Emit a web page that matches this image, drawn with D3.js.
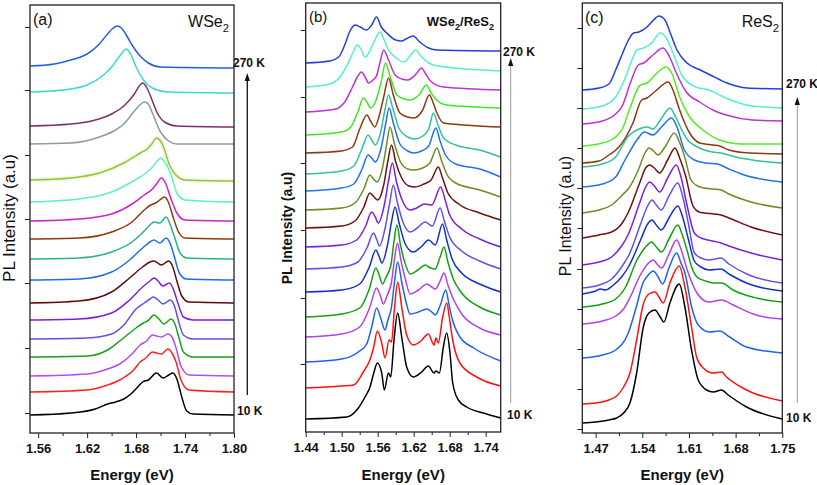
<!DOCTYPE html>
<html><head><meta charset="utf-8">
<script src="https://cdn.jsdelivr.net/npm/d3@7"></script>
<style>body{margin:0;background:#fff}svg{display:block}</style>
</head><body>
<svg id="chart" width="817" height="485"></svg>
<script>
// ---------- DATA ----------
const arrowLabels = ["270 K", "10 K"];
const yLabel = "PL Intensity (a.u)";
const xLabel = "Energy (eV)";

// Panel (a) WSe2 : tick values
const wse2Ticks = [1.56, 1.62, 1.68, 1.74, 1.80];
const wse2Minor = [1.59, 1.65, 1.71, 1.77];
const wse2YTicks = [20, 85, 150, 214, 278, 343, 406];
// vertical offsets (a.u.) for spectra, 270 K (top) -> 10 K (bottom)
const wse2Offsets = [367, 341, 307, 289, 253, 231, 212, 194, 174, 153, 130, 113, 94, 76, 57, 41, 18];
const wse2Colors = ["#2060e0","#3cd8d0","#7d2f6a","#8f9a9a","#8cc83c","#5cf0c8","#cc22cc","#8b3a10","#2ab088","#1c6cf0","#5c0c0c","#7a1fe0","#5c50e8","#18a018","#b44cf0","#ff2020","#000000"];
const wse2Spectra = [
 [[1.55,0],[1.58,2],[1.60,6],[1.62,12],[1.635,22],[1.645,32],[1.652,38],[1.657,40],[1.662,38],[1.668,31],[1.675,21],[1.685,10],[1.695,3],[1.71,-1],[1.80,-2]],
 [[1.55,0],[1.59,2],[1.62,7],[1.64,17],[1.65,25],[1.66,36],[1.668,43],[1.674,37],[1.68,25],[1.69,11],[1.70,4],[1.72,0],[1.80,-1]],
 [[1.55,0],[1.60,2],[1.63,6],[1.65,12],[1.665,20],[1.677,31],[1.684,40],[1.688,43],[1.694,37],[1.70,25],[1.706,13],[1.715,4],[1.73,0],[1.80,-1]],
 [[1.55,0],[1.60,1],[1.635,7],[1.655,14],[1.665,20],[1.68,35],[1.686,40],[1.69,42],[1.695,40],[1.70,31],[1.71,12],[1.72,3],[1.73,0],[1.80,0]],
 [[1.55,0],[1.60,2],[1.635,7],[1.665,17],[1.685,27],[1.695,32],[1.70,37],[1.705,42],[1.71,39],[1.715,30],[1.72,17],[1.73,4],[1.74,0],[1.80,-1]],
 [[1.55,0],[1.61,3],[1.65,10],[1.67,18],[1.685,25],[1.692,29],[1.70,35],[1.706,41],[1.71,44],[1.715,40],[1.722,29],[1.73,9],[1.74,2],[1.80,0]],
 [[1.55,0],[1.61,2],[1.65,7],[1.675,17],[1.69,26],[1.70,32],[1.705,37],[1.711,43],[1.716,38],[1.722,24],[1.73,8],[1.74,1],[1.80,0]],
 [[1.55,0],[1.61,1],[1.65,7],[1.675,17],[1.69,29],[1.698,34],[1.704,36],[1.709,39],[1.715,42],[1.72,36],[1.725,23],[1.732,7],[1.74,1],[1.80,0]],
 [[1.55,0],[1.61,1],[1.65,7],[1.675,17],[1.69,28],[1.697,34],[1.702,37],[1.709,36],[1.717,42],[1.722,34],[1.727,22],[1.734,6],[1.742,1],[1.80,0]],
 [[1.55,0],[1.61,1],[1.65,8],[1.672,20],[1.688,32],[1.697,38],[1.702,40],[1.709,37],[1.717,42],[1.722,36],[1.727,23],[1.733,7],[1.742,1],[1.80,0]],
 [[1.55,0],[1.61,2],[1.65,11],[1.672,25],[1.688,36],[1.697,41],[1.702,42],[1.711,38],[1.72,42],[1.725,36],[1.73,22],[1.736,7],[1.745,1],[1.80,0]],
 [[1.55,0],[1.61,1],[1.65,7],[1.672,20],[1.688,33],[1.697,39],[1.702,42],[1.707,39],[1.7125,34],[1.721,37],[1.726,30],[1.732,15],[1.738,3],[1.75,0],[1.80,0]],
 [[1.55,0],[1.62,1],[1.65,5],[1.665,14],[1.68,30],[1.69,36],[1.697,40],[1.701,42],[1.707,39],[1.713,35],[1.722,39],[1.727,33],[1.732,18],[1.738,4],[1.75,0],[1.80,0]],
 [[1.55,0],[1.62,1],[1.645,7],[1.66,16],[1.68,29],[1.689,34],[1.694,36],[1.702,42],[1.708,38],[1.714,33],[1.723,38],[1.728,32],[1.732,21],[1.738,5],[1.75,0],[1.80,0]],
 [[1.55,0],[1.62,2],[1.645,7],[1.66,12],[1.675,22],[1.685,31],[1.693,35],[1.70,41],[1.705,40],[1.711,39],[1.719,42],[1.724,39],[1.729,28],[1.735,10],[1.745,1],[1.80,0]],
 [[1.55,0],[1.62,2],[1.645,7],[1.66,12],[1.677,22],[1.685,30],[1.692,34],[1.70,40],[1.705,39],[1.711,38],[1.719,43],[1.724,39],[1.729,30],[1.735,12],[1.745,2],[1.80,0]],
 [[1.55,0],[1.60,2],[1.63,6],[1.645,11],[1.655,13],[1.665,16],[1.675,22],[1.682,28],[1.688,33],[1.695,35],[1.705,42],[1.713,37],[1.72,40],[1.725,42],[1.73,36],[1.736,18],[1.742,4],[1.75,1],[1.80,0]]
];

// Panel (b) WSe2/ReS2
const heteroTicks = [1.44, 1.50, 1.56, 1.62, 1.68, 1.74];
const heteroMinor = [1.47, 1.53, 1.59, 1.65, 1.71];
const heteroYTicks = [68, 134, 202, 269, 335, 402];
const heteroOffsets = [369, 345, 320, 297, 279, 258, 241, 222, 204, 185, 163, 140, 115, 95, 70, 44, 13];
const heteroColors = ["#2040e0","#50f0d0","#c030d8","#40e820","#8b3a10","#30c0a0","#2070f0","#6b8e23","#701010","#7a20e0","#6050f0","#1030d0","#10a010","#b040f0","#2060f0","#ff1010","#000000"];
const heteroSpectra = [
 [[1.44,0],[1.48,2],[1.495,6],[1.505,18],[1.513,31],[1.522,38],[1.531,36],[1.541,33],[1.55,38],[1.558,46],[1.566,36],[1.575,30],[1.59,23],[1.60,22],[1.607,24],[1.619,27],[1.63,21],[1.645,15],[1.66,13],[1.765,12]],
 [[1.44,0],[1.48,3],[1.497,10],[1.51,23],[1.52,36],[1.526,42],[1.532,38],[1.539,30],[1.546,35],[1.553,44],[1.564,55],[1.57,48],[1.577,38],[1.589,30],[1.603,25],[1.614,31],[1.623,37],[1.632,31],[1.645,24],[1.66,21],[1.765,16]],
 [[1.44,0],[1.49,3],[1.505,10],[1.518,25],[1.527,36],[1.533,40],[1.539,35],[1.545,29],[1.552,32],[1.558,36],[1.564,50],[1.57,62],[1.578,52],[1.589,37],[1.60,33],[1.61,32],[1.624,38],[1.633,44],[1.64,38],[1.648,31],[1.67,25],[1.765,22]],
 [[1.44,0],[1.50,3],[1.515,8],[1.527,23],[1.536,37],[1.542,33],[1.548,27],[1.556,33],[1.565,51],[1.573,72],[1.581,58],[1.592,40],[1.605,36],[1.615,35],[1.63,41],[1.641,50],[1.648,43],[1.655,37],[1.675,30],[1.765,27]],
 [[1.44,0],[1.50,2],[1.518,6],[1.53,24],[1.542,38],[1.548,32],[1.555,26],[1.562,36],[1.57,56],[1.578,75],[1.586,58],[1.597,40],[1.61,36],[1.62,35],[1.635,43],[1.646,58],[1.652,51],[1.658,41],[1.67,30],[1.765,26]],
 [[1.44,0],[1.50,3],[1.52,8],[1.533,24],[1.544,39],[1.55,34],[1.556,29],[1.565,42],[1.572,64],[1.578,79],[1.585,66],[1.596,45],[1.61,37],[1.622,35],[1.635,38],[1.645,45],[1.653,61],[1.66,50],[1.67,36],[1.69,29],[1.73,24],[1.765,17]],
 [[1.44,0],[1.50,3],[1.52,7],[1.534,22],[1.544,36],[1.55,33],[1.556,29],[1.566,44],[1.573,66],[1.579,83],[1.586,68],[1.597,47],[1.61,40],[1.62,38],[1.633,40],[1.645,45],[1.657,63],[1.664,50],[1.673,36],[1.69,27],[1.73,22],[1.765,14]],
 [[1.44,0],[1.50,2],[1.522,7],[1.537,21],[1.547,35],[1.553,31],[1.559,28],[1.568,42],[1.575,66],[1.5805,83],[1.588,66],[1.598,48],[1.61,41],[1.62,40],[1.635,42],[1.647,47],[1.659,62],[1.666,50],[1.675,36],[1.69,27],[1.73,20],[1.765,13]],
 [[1.44,0],[1.50,2],[1.522,7],[1.537,21],[1.547,35],[1.554,31],[1.56,28],[1.57,43],[1.577,67],[1.583,83],[1.59,66],[1.60,50],[1.612,42],[1.622,41],[1.637,44],[1.649,48],[1.661,61],[1.668,50],[1.677,35],[1.695,24],[1.73,15],[1.765,8]],
 [[1.44,0],[1.50,2],[1.525,7],[1.54,21],[1.55,35],[1.556,30],[1.561,24],[1.571,42],[1.578,66],[1.5844,84],[1.591,66],[1.60,48],[1.614,37],[1.625,39],[1.638,43],[1.65,42],[1.665,60],[1.672,48],[1.68,32],[1.70,18],[1.73,8],[1.765,0]],
 [[1.44,0],[1.50,2],[1.527,7],[1.542,21],[1.553,36],[1.558,30],[1.563,23],[1.572,40],[1.58,66],[1.586,84],[1.593,66],[1.602,47],[1.614,37],[1.626,41],[1.639,47],[1.651,43],[1.664,61],[1.671,48],[1.68,32],[1.70,18],[1.73,8],[1.765,0]],
 [[1.44,0],[1.50,2],[1.53,8],[1.546,25],[1.557,42],[1.562,36],[1.567,29],[1.576,46],[1.583,70],[1.589,85],[1.596,68],[1.606,48],[1.619,40],[1.632,45],[1.645,52],[1.656,47],[1.668,68],[1.675,52],[1.684,33],[1.70,19],[1.73,8],[1.765,0]],
 [[1.44,0],[1.50,3],[1.53,9],[1.546,28],[1.557,49],[1.563,41],[1.568,33],[1.574,40],[1.582,52],[1.587,75],[1.592,92],[1.598,72],[1.606,53],[1.614,43],[1.627,47],[1.639,52],[1.648,49],[1.656,48],[1.664,60],[1.6705,70],[1.677,55],[1.686,38],[1.70,24],[1.73,10],[1.765,2]],
 [[1.44,0],[1.50,3],[1.53,10],[1.547,30],[1.558,49],[1.564,42],[1.5694,33],[1.576,42],[1.583,55],[1.588,78],[1.593,94],[1.599,76],[1.606,58],[1.614,43],[1.628,47],[1.642,53],[1.65,50],[1.656,48],[1.664,56],[1.6705,64],[1.677,52],[1.686,38],[1.70,23],[1.73,9],[1.765,2]],
 [[1.44,0],[1.50,3],[1.53,11],[1.5417,18],[1.55,35],[1.5583,54],[1.565,44],[1.5722,32],[1.577,42],[1.583,55],[1.588,80],[1.5933,100],[1.6,80],[1.6028,72],[1.608,58],[1.614,48],[1.628,50],[1.642,53],[1.65,50],[1.656,47],[1.665,58],[1.6733,72],[1.679,57],[1.6833,45],[1.697,25],[1.72,14],[1.765,1]],
 [[1.44,0],[1.50,2],[1.52,3],[1.536,16],[1.547,28],[1.553,40],[1.5594,57],[1.5667,45],[1.5722,30],[1.579,48],[1.583,46],[1.588,80],[1.5933,106],[1.6,81],[1.6083,53],[1.6194,43],[1.632,47],[1.6444,54],[1.6539,43],[1.6572,50],[1.661,45],[1.668,70],[1.675,85],[1.68,68],[1.685,48],[1.697,25],[1.725,11],[1.765,2]],
 [[1.44,0],[1.5083,2],[1.5278,11],[1.5389,22],[1.5472,32],[1.553,45],[1.5594,56],[1.5667,46],[1.5711,29],[1.5778,46],[1.5817,42],[1.5872,79],[1.5933,106],[1.6,82],[1.6083,52],[1.6194,42],[1.6333,47],[1.6444,53],[1.6539,46],[1.6572,48],[1.6628,46],[1.6694,72],[1.675,86],[1.6805,66],[1.685,36],[1.6944,19],[1.7083,12],[1.7361,6],[1.765,1]]
];

// Panel (c) ReS2
const res2Ticks = [1.47, 1.54, 1.61, 1.68, 1.75];
const res2Minor = [1.505, 1.575, 1.645, 1.715];
const res2YTicks = [4, 44, 84, 124, 164, 205, 245, 285, 325, 365, 405];
const res2Offsets = [343, 324, 309, 287, 270, 266, 246, 220, 195, 168, 145, 139, 126, 109, 75, 29, 10];
const res2Colors = ["#2040e0","#50f0d0","#c030d8","#50ee20","#8b3a10","#30c0a0","#2070f0","#6b8e23","#701010","#7a20e0","#6050f0","#1030d0","#10a010","#b040f0","#2060f0","#ff1010","#000000"];
const res2Spectra = [
 [[1.45,0],[1.475,2],[1.49,6],[1.50,20],[1.51,36],[1.517,47],[1.527,57],[1.535,58],[1.547,63],[1.557,70],[1.565,74],[1.574,70],[1.582,57],[1.592,40],[1.607,27],[1.627,20],[1.642,15],[1.667,7],[1.697,2],[1.75,1]],
 [[1.45,0],[1.48,3],[1.50,12],[1.515,32],[1.525,50],[1.532,59],[1.542,61],[1.554,66],[1.567,76],[1.576,71],[1.586,56],[1.60,33],[1.62,22],[1.64,19],[1.665,11],[1.705,3],[1.75,1]],
 [[1.45,0],[1.48,3],[1.50,10],[1.51,18],[1.522,41],[1.534,59],[1.542,61],[1.556,69],[1.571,76],[1.581,67],[1.591,51],[1.606,32],[1.626,22],[1.646,14],[1.666,9],[1.705,4],[1.75,3]],
 [[1.45,0],[1.48,3],[1.50,9],[1.51,17],[1.522,39],[1.537,61],[1.547,63],[1.559,71],[1.5754,79],[1.584,73],[1.596,49],[1.611,29],[1.631,16],[1.656,6],[1.69,2],[1.75,2]],
 [[1.45,0],[1.475,2],[1.49,8],[1.505,16],[1.526,40],[1.539,63],[1.547,65],[1.56,72],[1.579,81],[1.586,73],[1.596,53],[1.611,30],[1.626,20],[1.646,18],[1.656,17],[1.67,13],[1.70,10],[1.75,9]],
 [[1.45,0],[1.48,3],[1.50,10],[1.518,30],[1.535,38],[1.547,40],[1.556,38],[1.568,48],[1.5814,59],[1.59,50],[1.60,36],[1.608,27],[1.62,21],[1.633,17],[1.645,15],[1.658,14],[1.68,10],[1.75,4]],
 [[1.45,0],[1.48,3],[1.50,10],[1.514,27],[1.533,48],[1.543,55],[1.556,52],[1.57,61],[1.584,69],[1.592,60],[1.603,37],[1.618,27],[1.635,24],[1.653,23],[1.67,18],[1.693,12],[1.75,5]],
 [[1.45,0],[1.475,3],[1.494,8],[1.51,18],[1.52,25],[1.534,43],[1.544,60],[1.55,65],[1.557,62],[1.5635,58],[1.575,67],[1.588,80],[1.595,72],[1.604,55],[1.613,33],[1.623,27],[1.633,25],[1.647,24],[1.658,23],[1.67,19],[1.703,11],[1.75,5]],
 [[1.45,0],[1.475,3],[1.494,6],[1.51,15],[1.5185,25],[1.536,55],[1.545,70],[1.551,73],[1.558,70],[1.566,65],[1.578,78],[1.589,90],[1.596,80],[1.605,62],[1.616,32],[1.625,26],[1.633,25],[1.647,24],[1.658,23],[1.67,20],[1.703,11],[1.75,3]],
 [[1.45,0],[1.475,3],[1.494,8],[1.51,20],[1.5185,30],[1.536,62],[1.545,78],[1.551,83],[1.558,79],[1.566,73],[1.578,87],[1.591,100],[1.598,88],[1.607,60],[1.618,32],[1.628,27],[1.638,25],[1.658,22],[1.67,19],[1.703,12],[1.75,5]],
 [[1.45,0],[1.475,3],[1.494,9],[1.51,22],[1.52,33],[1.538,65],[1.548,82],[1.5545,88],[1.561,83],[1.5685,78],[1.58,92],[1.5934,105],[1.60,93],[1.609,65],[1.618,35],[1.628,30],[1.64,28],[1.658,30],[1.67,24],[1.70,13],[1.75,5]],
 [[1.45,0],[1.47,3],[1.477,5],[1.485,4],[1.495,8],[1.51,18],[1.52,28],[1.538,55],[1.548,70],[1.5545,74],[1.561,69],[1.5685,64],[1.58,76],[1.5934,88],[1.60,78],[1.609,55],[1.618,33],[1.628,27],[1.64,24],[1.658,25],[1.67,20],[1.70,10],[1.75,3]],
 [[1.45,0],[1.48,3],[1.50,8],[1.515,20],[1.532,47],[1.545,60],[1.554,65],[1.561,60],[1.569,55],[1.58,68],[1.5934,82],[1.60,72],[1.607,57],[1.614,40],[1.622,30],[1.635,26],[1.647,24],[1.659,24],[1.676,17],[1.711,9],[1.75,5]],
 [[1.45,0],[1.48,3],[1.50,8],[1.512,15],[1.522,27],[1.537,49],[1.548,60],[1.5565,64],[1.562,60],[1.569,56],[1.58,70],[1.5914,84],[1.598,75],[1.606,57],[1.614,42],[1.622,31],[1.64,22],[1.659,24],[1.676,19],[1.711,9],[1.75,5]],
 [[1.45,0],[1.48,3],[1.50,8],[1.519,25],[1.531,51],[1.541,75],[1.549,83],[1.5565,87],[1.563,82],[1.5704,74],[1.58,90],[1.5914,105],[1.598,95],[1.604,85],[1.614,51],[1.624,33],[1.641,26],[1.656,27],[1.671,21],[1.696,11],[1.75,5]],
 [[1.45,0],[1.47,1],[1.49,4],[1.5015,8],[1.512,17],[1.5215,31],[1.5315,64],[1.5415,100],[1.55,110],[1.559,112],[1.565,107],[1.5714,101],[1.5814,121],[1.5954,138],[1.6039,117],[1.6139,77],[1.6214,47],[1.6314,36],[1.6464,31],[1.6589,32],[1.6664,27],[1.6964,14],[1.75,3]],
 [[1.45,0],[1.47,1],[1.49,3],[1.5015,5],[1.512,10],[1.5215,20],[1.5315,50],[1.5415,96],[1.55,110],[1.559,113],[1.566,107],[1.5724,101],[1.5814,120],[1.5954,139],[1.6039,116],[1.6139,73],[1.6239,43],[1.6364,33],[1.6464,31],[1.6589,33],[1.6689,28],[1.6964,16],[1.75,4]]
];

// ---------- LAYOUT ----------
const FONT = "'Liberation Sans', Arial, sans-serif";
const panels = [
  { id:"a", left:30, right:234, top:5, bottom:433, xDomain:[1.55,1.80], yMax:428,
    ticks:wse2Ticks, minor:wse2Minor, yTicks:wse2YTicks, offsets:wse2Offsets, colors:wse2Colors, spectra:wse2Spectra,
    glow:4, tag:{x:33,y:25,size:16}, name:{parts:[["WSe",0],["2",1]], x:229, y:27, size:16, bold:false},
    ylab:{x:15, y:218, size:17, bold:false},
    arrow:{x:247.3, y1:395, y2:73, color:"#111", w:1.3}, lab270:{x:233,y:67}, lab10:{x:237,y:415} },
  { id:"b", left:305.7, right:500.7, top:3, bottom:432, xDomain:[1.44,1.765], yMax:429,
    ticks:heteroTicks, minor:heteroMinor, yTicks:heteroYTicks, offsets:heteroOffsets, colors:heteroColors, spectra:heteroSpectra,
    glow:-1, tag:{x:309,y:22,size:15}, name:{parts:[["WSe",0],["2",1],["/ReS",0],["2",1]], x:494, y:26, size:13, bold:true},
    ylab:{x:292, y:228, size:14, bold:true},
    arrow:{x:510.7, y1:403, y2:58, color:"#999", w:1}, lab270:{x:503,y:56}, lab10:{x:507,y:419} },
  { id:"c", left:582.3, right:782.3, top:3, bottom:433, xDomain:[1.45,1.75], yMax:430,
    ticks:res2Ticks, minor:res2Minor, yTicks:res2YTicks, offsets:res2Offsets, colors:res2Colors, spectra:res2Spectra,
    glow:-1, tag:{x:585,y:23,size:16}, name:{parts:[["ReS",0],["2",1]], x:779, y:27, size:16, bold:false},
    ylab:{x:571, y:216, size:16, bold:false},
    arrow:{x:797.3, y1:403, y2:97, color:"#999", w:1}, lab270:{x:786,y:88}, lab10:{x:786,y:422} }
];

const svg = d3.select("#chart");
svg.append("rect").attr("width",817).attr("height",485).attr("fill","#fff");
const defs = svg.append("defs");

panels.forEach(p => {
  const x = d3.scaleLinear().domain(p.xDomain).range([p.left, p.right]);
  const y = d3.scaleLinear().domain([0, p.yMax]).range([p.bottom, p.top]);
  const g = svg.append("g");

  defs.append("clipPath").attr("id","clip-"+p.id).append("rect")
    .attr("x",p.left).attr("y",p.top).attr("width",p.right-p.left).attr("height",p.bottom-p.top);

  const line = d3.line().x(d => x(d[0])).y(d => y(d[1])).curve(d3.curveMonotoneX);
  const cg = g.append("g").attr("clip-path","url(#clip-"+p.id+")");
  p.spectra.forEach((s, i) => {
    const pts = s.map(d => [d[0], d[1] + p.offsets[i]]);
    if (i === p.glow) {
      cg.append("path").attr("d", line(pts)).attr("fill","none")
        .attr("stroke","#f4f2d4").attr("stroke-width",5).attr("stroke-opacity",0.6);
    }
    cg.append("path").attr("d", line(pts)).attr("fill","none")
      .attr("stroke", p.colors[i]).attr("stroke-width",1.5).attr("stroke-linejoin","round");
  });

  // axes
  const bx = g.append("g").attr("transform","translate(0,"+p.bottom+")")
    .call(d3.axisBottom(x).tickValues(p.ticks).tickSize(5).tickPadding(6).tickFormat(d3.format(".2f")));
  bx.select(".domain").remove();
  bx.selectAll("text").attr("font-family",FONT).attr("font-size",13).attr("font-weight","bold").attr("fill","#111");
  bx.selectAll("line").attr("stroke","#222");
  const mx = g.append("g").attr("transform","translate(0,"+p.bottom+")")
    .call(d3.axisBottom(x).tickValues(p.minor).tickSize(3).tickFormat(""));
  mx.select(".domain").remove();
  mx.selectAll("line").attr("stroke","#222");
  const ly = g.append("g").attr("transform","translate("+p.left+",0)")
    .call(d3.axisLeft(y).tickValues(p.yTicks).tickSize(5).tickFormat(""));
  ly.select(".domain").remove();
  ly.selectAll("line").attr("stroke","#222");

  g.append("rect").attr("x",p.left).attr("y",p.top).attr("width",p.right-p.left).attr("height",p.bottom-p.top)
    .attr("fill","none").attr("stroke","#222").attr("stroke-width",1.3);

  // panel tag and material name
  g.append("text").attr("x",p.tag.x).attr("y",p.tag.y).attr("font-family",FONT)
    .attr("font-size",p.tag.size).attr("fill","#111").text("("+p.id+")");
  const nm = g.append("text").attr("x",p.name.x).attr("y",p.name.y).attr("text-anchor","end")
    .attr("font-family",FONT).attr("font-size",p.name.size).attr("fill","#111")
    .attr("font-weight", p.name.bold ? "bold" : "normal");
  let prevSub = 0;
  p.name.parts.forEach(([t, sub]) => {
    const dy = sub === prevSub ? 0 : (sub ? 0.3 : -0.3) * p.name.size;
    nm.append("tspan").attr("dy", dy).attr("font-size", sub ? p.name.size*0.7 : p.name.size).text(t);
    prevSub = sub;
  });

  // axis labels
  g.append("text").attr("x",(p.left+p.right)/2).attr("y",480).attr("text-anchor","middle")
    .attr("font-family",FONT).attr("font-size",15).attr("font-weight","bold").attr("fill","#111").text(xLabel);
  g.append("text").attr("transform","translate("+p.ylab.x+","+p.ylab.y+") rotate(-90)")
    .attr("text-anchor","middle").attr("font-family",FONT).attr("font-size",p.ylab.size)
    .attr("font-weight", p.ylab.bold ? "bold" : "normal").attr("fill","#111").text(yLabel);

  // temperature arrow
  g.append("line").attr("x1",p.arrow.x).attr("x2",p.arrow.x).attr("y1",p.arrow.y1).attr("y2",p.arrow.y2+6)
    .attr("stroke",p.arrow.color).attr("stroke-width",p.arrow.w);
  g.append("path").attr("d", d3.line()([[p.arrow.x-2.6,p.arrow.y2+8],[p.arrow.x,p.arrow.y2],[p.arrow.x+2.6,p.arrow.y2+8]]) + "Z")
    .attr("fill","#111");
  g.append("text").attr("x",p.lab270.x).attr("y",p.lab270.y).attr("font-family",FONT).attr("font-size",12)
    .attr("font-weight","bold").attr("fill","#111").text(arrowLabels[0]);
  g.append("text").attr("x",p.lab10.x).attr("y",p.lab10.y).attr("font-family",FONT).attr("font-size",12)
    .attr("font-weight","bold").attr("fill","#111").text(arrowLabels[1]);
});
</script>
</body></html>
